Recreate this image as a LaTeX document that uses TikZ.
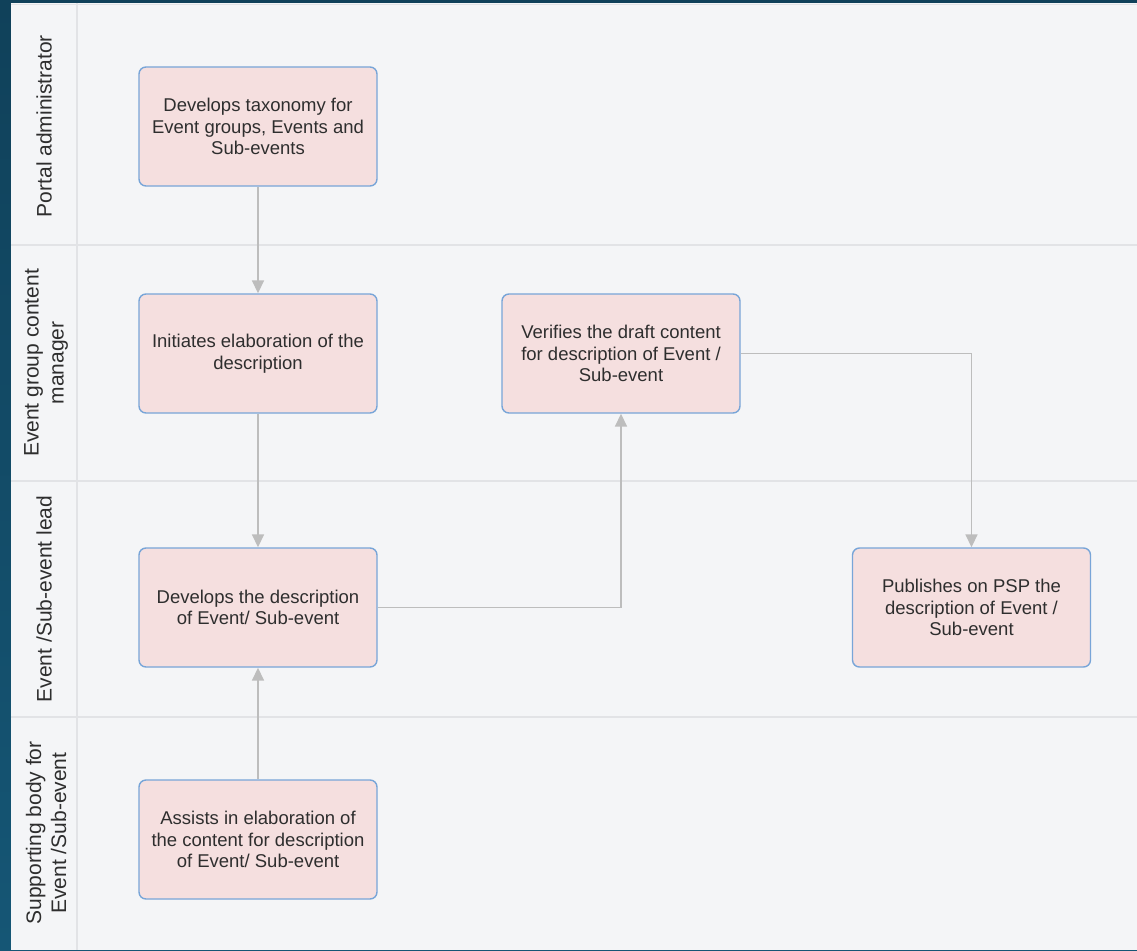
\documentclass[tikz,border=0pt]{standalone}
\usepackage{fontspec}
\setmainfont{Liberation Sans}
\usetikzlibrary{arrows.meta}
\definecolor{frame}{HTML}{10415A}
\definecolor{framebot}{HTML}{155675}
\definecolor{panel}{HTML}{F4F5F7}
\definecolor{laneline}{HTML}{E2E3E6}
\definecolor{boxfill}{HTML}{F5DFDF}
\definecolor{boxline}{HTML}{78A5D8}
\definecolor{arrowc}{HTML}{BDBDBD}
\definecolor{txt}{HTML}{2E2E2E}
\tikzset{
  taskbox/.style={draw=boxline, line width=1.4pt, fill=boxfill, rounded corners=7pt,
    minimum width=238pt, minimum height=119pt, align=center, text=txt,
    font=\fontsize{18.5}{21.5}\selectfont, inner sep=2pt},
  lanelabel/.style={rotate=90, align=center, text=txt, font=\fontsize{21}{25}\selectfont},
  arr/.style={draw=arrowc, line width=1.7pt, -{Triangle[width=12pt,length=13pt]}},
  lanesep/.style={draw=laneline, line width=1.5pt}
}
\begin{document}
\begin{tikzpicture}[x=1pt,y=-1pt]
\useasboundingbox (0,0) rectangle (1137,950);
% frame and panel
\shade[top color=frame, bottom color=framebot] (0,0) rectangle (1137,950);
\fill[panel] (11,3) rectangle (1137,950);
\draw[laneline, line width=1.5pt] (11,4.5) -- (1137,4.5);
% lane separators
\draw[lanesep] (77,3) -- (77,950);
\draw[lanesep] (11,245) -- (1137,245);
\draw[lanesep] (11,481) -- (1137,481);
\draw[lanesep] (11,717) -- (1137,717);
% lane labels
\node[lanelabel] (l1) at (44,126) {Portal administrator};
\node[lanelabel] (l2) at (46,363) {Event group content\\manager};
\node[lanelabel] (l3) at (44,599) {Event /Sub-event lead};
\node[lanelabel] (l4) at (46,833) {Supporting body for\\Event /Sub-event};
% tasks
\node[taskbox] (b1) at (258,126.5) {Develops taxonomy for\\Event groups, Events and\\Sub-events};
\node[taskbox] (b2) at (258,353.5) {Initiates elaboration of the\\description};
\node[taskbox] (b3) at (621,353.5) {Verifies the draft content\\for description of Event /\\Sub-event};
\node[taskbox] (b4) at (258,607.5) {Develops the description\\of Event/ Sub-event};
\node[taskbox] (b5) at (971.5,607.5) {Publishes on PSP the\\description of Event /\\Sub-event};
\node[taskbox] (b6) at (258,839.5) {Assists in elaboration of\\the content for description\\of Event/ Sub-event};
% connectors
\draw[arr] (b1) -- (b2);
\draw[arr] (b2) -- (b4);
\draw[arr] (b6) -- (b4);
\draw[arr] (b4.east) -| (b3.south);
\draw[arr] (b3.east) -| (b5.north);
\end{tikzpicture}
\end{document}
